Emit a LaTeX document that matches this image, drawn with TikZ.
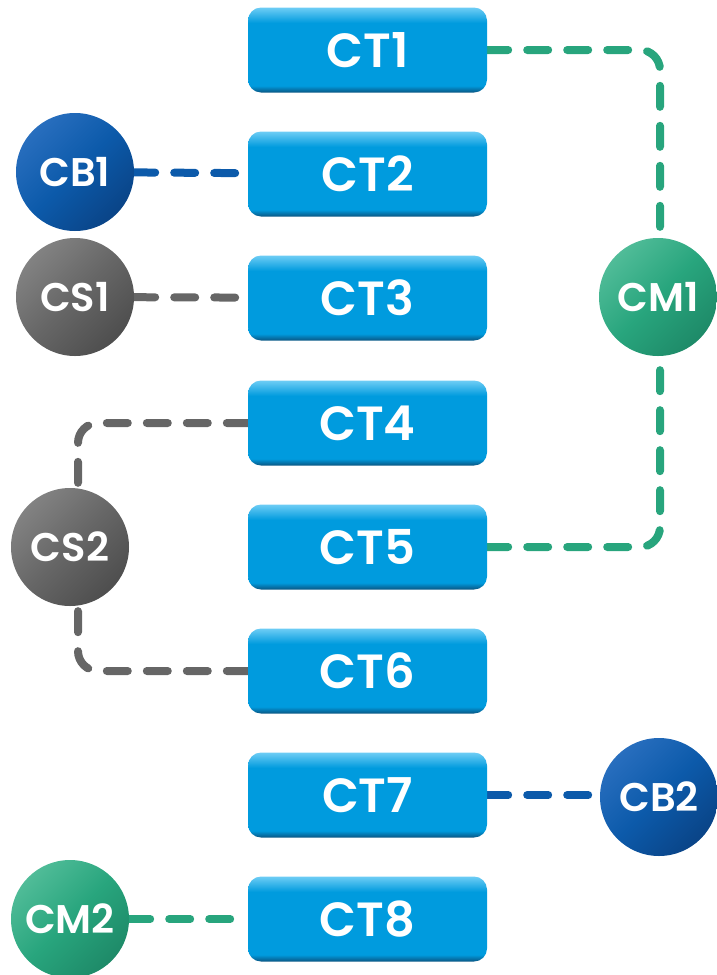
\documentclass[tikz,border=0pt]{standalone}
\usepackage{fontspec}
\setmainfont{Poppins}[BoldFont={Poppins SemiBold}]
\usetikzlibrary{backgrounds}

\definecolor{ctblue}{RGB}{0,155,222}
\definecolor{ctlight}{RGB}{110,205,245}
\definecolor{ctdark}{RGB}{10,85,130}
\definecolor{cbblue}{RGB}{12,90,170}
\definecolor{cblight}{RGB}{40,110,190}
\definecolor{cbdark}{RGB}{10,68,135}
\definecolor{csgrey}{RGB}{102,102,102}
\definecolor{cslight}{RGB}{130,130,130}
\definecolor{csdark}{RGB}{78,78,78}
\definecolor{cmgreen}{RGB}{40,165,125}
\definecolor{cmlight}{RGB}{80,188,152}
\definecolor{cmdark}{RGB}{30,138,104}

\pgfdeclareverticalshading{ctshade}{100bp}{color(0bp)=(ctdark); color(25bp)=(ctdark); color(29bp)=(ctblue); color(66bp)=(ctblue); color(75bp)=(ctlight); color(100bp)=(ctlight)}

\tikzset{
  ctbox/.style={rectangle, rounded corners=13pt, minimum width=239pt, minimum height=85pt,
    inner sep=0pt, shading=ctshade, text=white, font=\bfseries\fontsize{48}{48}\selectfont},
  ball/.style={circle, minimum size=118pt, inner sep=0pt, text=white,
    font=\bfseries\fontsize{40}{40}\selectfont},
  cbball/.style={ball, top color=cblight, bottom color=cbdark, middle color=cbblue, shading angle=45},
  csball/.style={ball, top color=cslight, bottom color=csdark, middle color=csgrey, shading angle=45},
  cmball/.style={ball, top color=cmlight, bottom color=cmdark, middle color=cmgreen, shading angle=45},
  link/.style={line width=8pt, dash pattern=on 21pt off 19pt, line cap=round, rounded corners=20pt}
}

\begin{document}
\begin{tikzpicture}[x=1pt,y=1pt]
\useasboundingbox (0,0) rectangle (717,-975);
% the eight CT boxes
\node [ctbox] (CT1) at (367.5,-50) {CT1};
\node [ctbox] (CT2) at (367.5,-174) {CT2};
\node [ctbox] (CT3) at (367.5,-298) {CT3};
\node [ctbox] (CT4) at (367.5,-423) {CT4};
\node [ctbox] (CT5) at (367.5,-547) {CT5};
\node [ctbox] (CT6) at (367.5,-671) {CT6};
\node [ctbox] (CT7) at (367.5,-795) {CT7};
\node [ctbox] (CT8) at (367.5,-919) {CT8};
% the balls
\node [cbball] (CB1) at (75,-172) {CB1};
\node [csball] (CS1) at (75,-297) {CS1};
\node [csball] (CS2) at (70,-547) {CS2};
\node [cmball] (CM1) at (658,-297) {CM1};
\node [cbball] (CB2) at (659,-797) {CB2};
\node [cmball] (CM2) at (70,-919) {CM2};
% links
\begin{pgfonlayer}{background}
\draw [link, cbblue] (CB1) -- (CT2);
\draw [link, csgrey] (CS1) -- (CT3);
\draw [link, csgrey] (CT4.west) -| ([xshift=8pt]CS2.center);
\draw [link, csgrey] (CT6.west) -| ([xshift=8pt]CS2.center);
\draw [link, cmgreen] (CT1.east) -| ([xshift=2pt]CM1.center);
\draw [link, cmgreen] (CT5.east) -| ([xshift=2pt]CM1.center);
\draw [link, cbblue] (CT7.east) -- (CT7.east -| CB2.center);
\draw [link, cmgreen] (CM2) -- (CT8);
\end{pgfonlayer}
\end{tikzpicture}
\end{document}
